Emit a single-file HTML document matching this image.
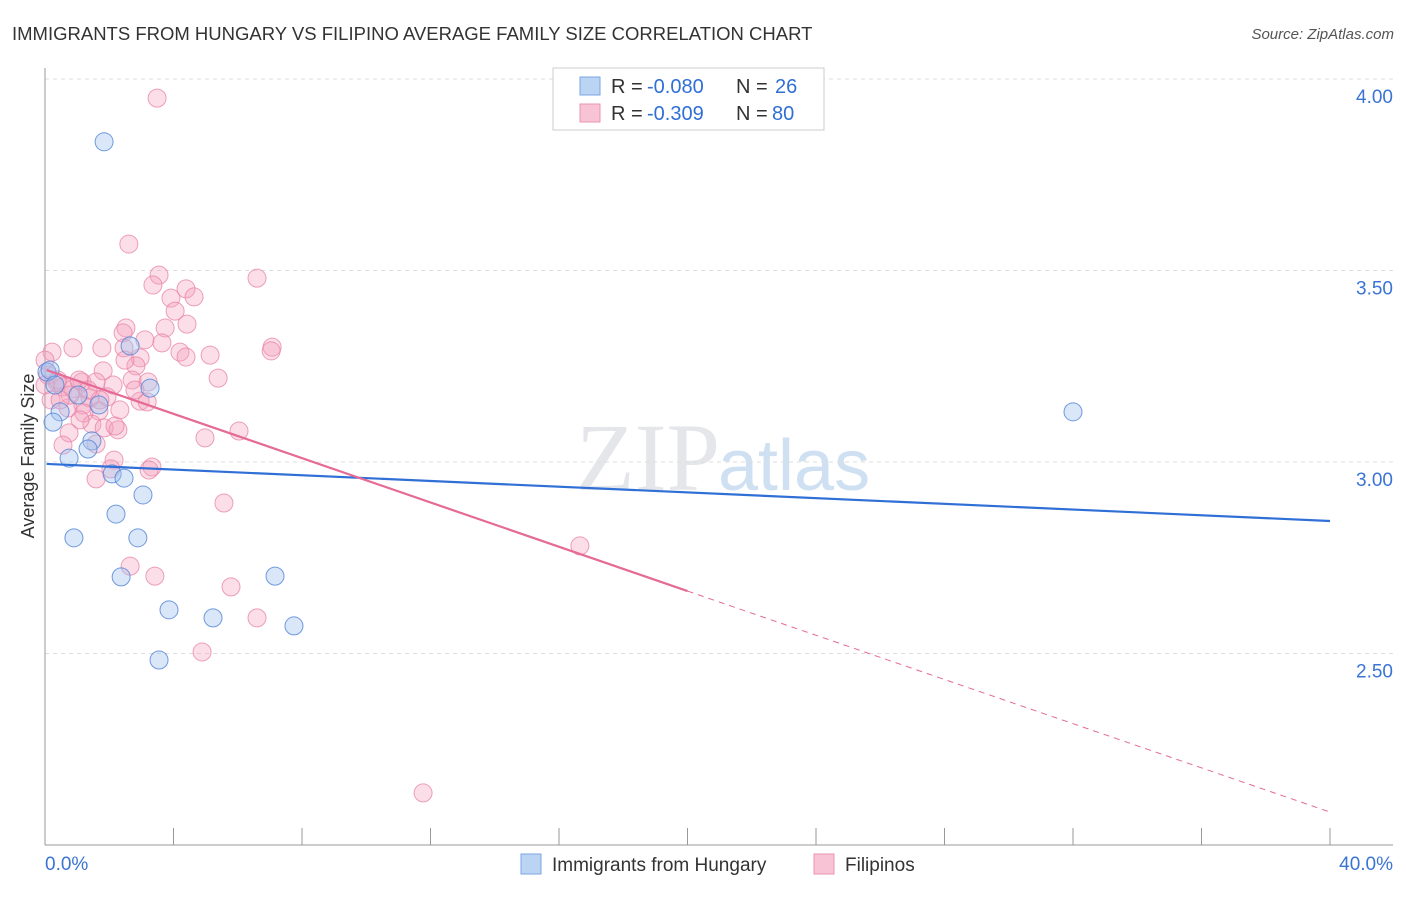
<!DOCTYPE html>
<html><head><meta charset="utf-8"><style>
body{margin:0;background:#fff;font-family:"Liberation Sans",sans-serif}
</style></head><body>
<svg width="1406" height="892" font-family="Liberation Sans, sans-serif">
<text x="12" y="40" font-size="18.5" fill="#333">IMMIGRANTS FROM HUNGARY VS FILIPINO AVERAGE FAMILY SIZE CORRELATION CHART</text>
<text x="1394" y="39" font-size="15" fill="#555" font-style="italic" text-anchor="end">Source: ZipAtlas.com</text>
<text x="720" y="490" font-size="96" fill="#e4e6ea" text-anchor="end" font-family="Liberation Serif, serif">ZIP</text>
<text x="718" y="490" font-size="72" fill="#cfe0f2">atlas</text>
<g id="grid"></g><g id="axes"></g>
<text transform="translate(34,456) rotate(-90)" font-size="18" fill="#333" text-anchor="middle">Average Family Size</text>
<g id="pts"></g><g id="lines"></g>
<g>
<rect x="553" y="68" width="271" height="62" fill="#fff" stroke="#ccc"/>
<rect x="580" y="77" width="20" height="18" fill="#bcd4f4" stroke="#7aa6e3"/>
<rect x="580" y="104" width="20" height="18" fill="#f8c4d5" stroke="#e895b0"/>
<text y="93" font-size="20" fill="#333"><tspan x="611">R =</tspan><tspan x="647" fill="#2f6fd6">-0.080</tspan><tspan x="736">N =</tspan><tspan x="775" fill="#2f6fd6">26</tspan></text>
<text y="120" font-size="20" fill="#333"><tspan x="611">R =</tspan><tspan x="647" fill="#2f6fd6">-0.309</tspan><tspan x="736">N =</tspan><tspan x="772" fill="#2f6fd6">80</tspan></text>
</g>
<g>
<rect x="521" y="854" width="20" height="20" fill="#bcd4f4" stroke="#7aa6e3"/>
<text x="552" y="871" font-size="19" fill="#333">Immigrants from Hungary</text>
<rect x="814" y="854" width="20" height="20" fill="#f8c4d5" stroke="#e895b0"/>
<text x="845" y="871" font-size="19" fill="#333">Filipinos</text>
</g>
</svg>
<script>
const xTickLabels=["0.0%","40.0%"];
const yTicks=[2.5,3.0,3.5,4.0];
const blueX=[1.84,2.65,3.27,0.06,0.47,0.25,1.68,1.46,1.34,0.75,2.09,2.46,3.05,2.21,0.90,2.89,2.37,7.16,3.86,5.23,7.75,3.55,32.0,0.16,1.03,0.31];
const blueY=[3.836,3.303,3.193,3.235,3.131,3.104,3.149,3.055,3.034,3.010,2.969,2.958,2.914,2.864,2.802,2.802,2.700,2.702,2.614,2.593,2.572,2.483,3.131,3.240,3.175,3.201];
const pinkX=[3.49,2.61,3.55,6.60,3.36,4.39,4.64,3.92,4.05,4.42,2.52,3.74,2.43,3.11,0.87,1.77,7.07,3.64,2.46,4.20,5.14,7.04,0.22,2.96,4.39,1.81,2.83,2.71,5.39,0.09,0.37,1.15,2.12,0.87,3.21,1.59,1.06,0.56,0,0.19,1.93,1.40,2.96,3.18,1.18,1.68,0.72,1.21,1.46,1.84,2.27,2.18,6.04,0.75,4.98,1.59,0.56,2.15,2.05,3.33,3.24,1.59,5.57,16.65,2.65,3.42,5.79,6.60,4.89,11.77,0,0.40,0.78,1.09,1.71,2.33,1.34,2.80,0.47,2.49];
const pinkY=[3.950,3.569,3.488,3.480,3.462,3.452,3.431,3.428,3.394,3.360,3.350,3.350,3.337,3.319,3.298,3.298,3.300,3.311,3.298,3.287,3.279,3.290,3.287,3.272,3.274,3.238,3.251,3.214,3.219,3.227,3.209,3.209,3.201,3.191,3.209,3.209,3.214,3.196,3.201,3.162,3.170,3.167,3.159,3.157,3.149,3.133,3.141,3.128,3.099,3.089,3.084,3.094,3.081,3.076,3.063,3.047,3.044,3.005,2.982,2.987,2.979,2.956,2.893,2.781,2.728,2.702,2.674,2.593,2.504,2.136,3.266,3.214,3.175,3.110,3.162,3.136,3.188,3.188,3.162,3.266];
const blueTrend=[2.995,2.846];
const pinkTrend=[3.240,2.086];
const pinkSolidEnd=20;
const NS="http://www.w3.org/2000/svg";
const sx=v=>45+v*1285/40, sy=v=>79+(4-v)*383;
function mk(tag,attrs,parent){const e=document.createElementNS(NS,tag);for(const k in attrs)e.setAttribute(k,attrs[k]);document.getElementById(parent).appendChild(e);return e;}
yTicks.forEach(t=>{
 const g=mk("line",{x1:45,x2:1393,y1:sy(t),y2:sy(t),stroke:"#ddd","stroke-dasharray":"4,4"},"grid");
 
 
 const l=mk("text",{x:1393,y:sy(t)+24,"font-size":19,fill:"#3b74d4","text-anchor":"end"},"grid");
 l.textContent=t.toFixed(2);
 
 
});
mk("line",{x1:45,x2:45,y1:68,y2:845,stroke:"#999"},"axes");
mk("line",{x1:45,x2:1393,y1:845,y2:845,stroke:"#999"},"axes");
for(let i=0;i<=10;i++){const t=mk("line",{x1:sx(i*4),x2:sx(i*4),y1:828,y2:845,stroke:"#999"},"axes");
 
 }
[[0,"start",45],[40,"end",1393]].forEach((a,i)=>{const t=mk("text",{x:a[2],y:870,"font-size":19,fill:"#3b74d4","text-anchor":a[1]},"axes");t.textContent=xTickLabels[i];
 
 });
pinkX.forEach((x,i)=>{const c=mk("circle",{cx:sx(x),cy:sy(pinkY[i]),r:9,fill:"rgba(244,160,190,0.35)",stroke:"rgba(232,130,165,0.75)"},"pts");
 
 });
blueX.forEach((x,i)=>{const c=mk("circle",{cx:sx(x),cy:sy(blueY[i]),r:9,fill:"rgba(160,195,240,0.4)",stroke:"rgba(80,130,215,0.8)"},"pts");
 
 });
const pv=x=>pinkTrend[0]+(pinkTrend[1]-pinkTrend[0])*x/40;
let a=mk("line",{x1:sx(0.05),y1:sy(blueTrend[0]),x2:sx(40),y2:sy(blueTrend[1]),stroke:"#2f6fd6","stroke-width":2.2},"lines");


a=mk("line",{x1:sx(0.05),y1:sy(pv(0)),x2:sx(pinkSolidEnd),y2:sy(pv(pinkSolidEnd)),stroke:"#e56a95","stroke-width":2.2},"lines");


a=mk("line",{x1:sx(pinkSolidEnd),y1:sy(pv(pinkSolidEnd)),x2:sx(40),y2:sy(pv(40)),stroke:"#e56a95","stroke-width":1,"stroke-dasharray":"6,5"},"lines");


</script>
</body></html>
